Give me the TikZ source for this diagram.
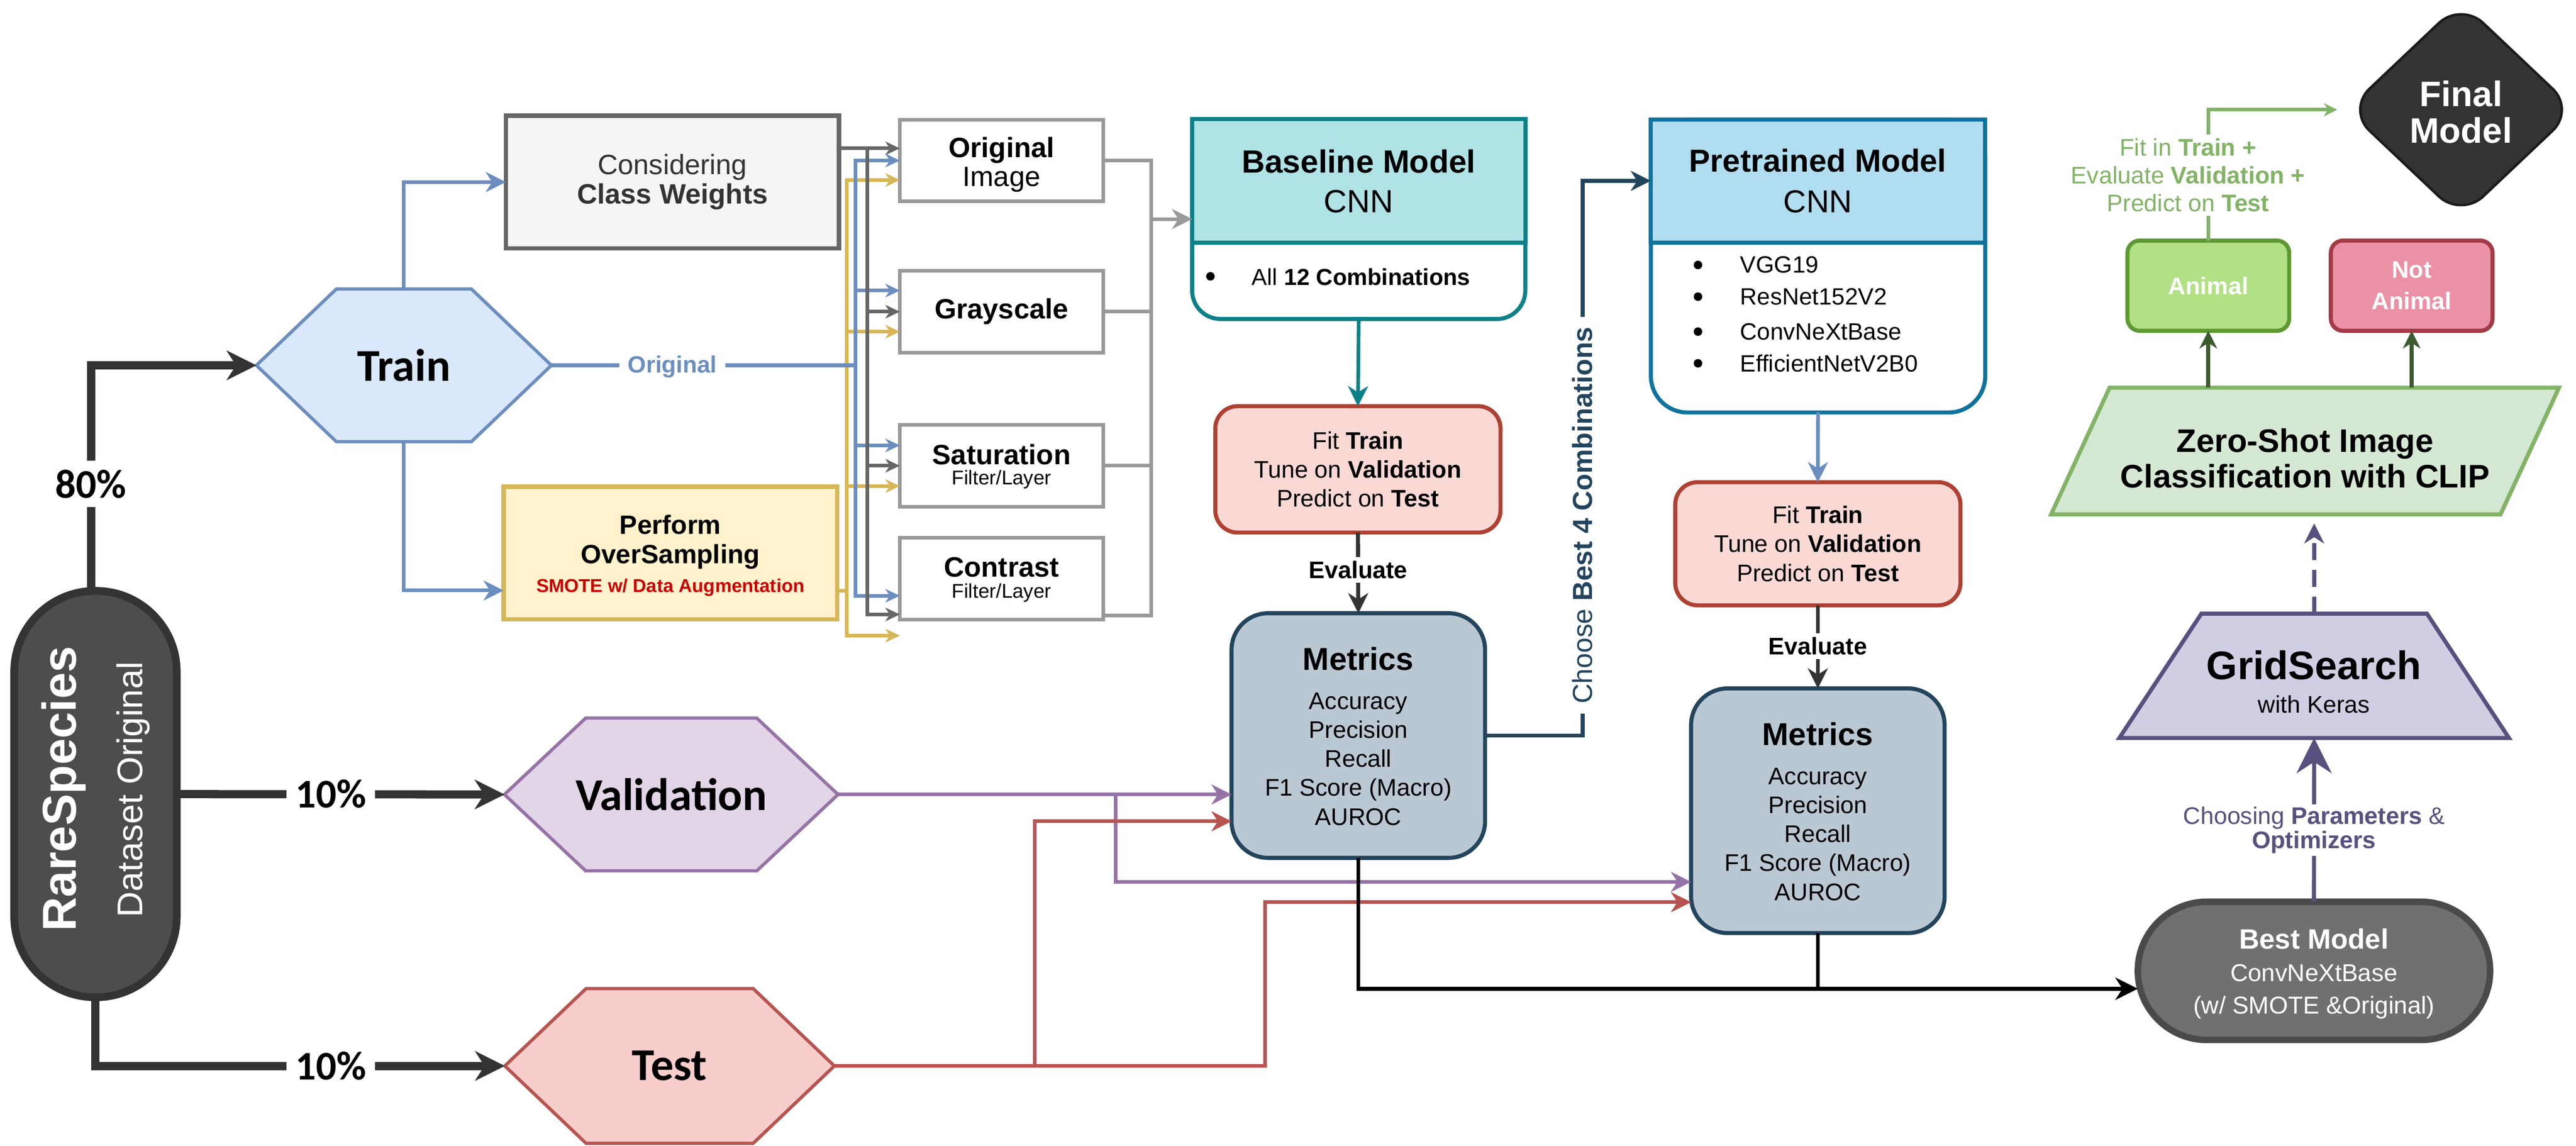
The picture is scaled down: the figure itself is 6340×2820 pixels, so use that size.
\documentclass[tikz,border=0pt]{standalone}
\usepackage{fontspec}
\setmainfont{Liberation Sans}
\newfontfamily\calfont{Carlito}
\usetikzlibrary{arrows.meta,calc,backgrounds}
\definecolor{blueS}{HTML}{6C8EBF}
\definecolor{blueF}{HTML}{DAE8FC}
\definecolor{yelS}{HTML}{D6B656}
\definecolor{yelF}{HTML}{FFF2CC}
\definecolor{purS}{HTML}{9673A6}
\definecolor{purF}{HTML}{E1D5E7}
\definecolor{redS}{HTML}{B85450}
\definecolor{redF}{HTML}{F8CECC}
\definecolor{grnS}{HTML}{82B366}
\definecolor{grnF}{HTML}{D5E8D4}
\definecolor{cwS}{HTML}{666666}
\definecolor{cwF}{HTML}{F5F5F5}
\definecolor{cwT}{HTML}{333333}
\definecolor{filS}{HTML}{999999}
\definecolor{tealS}{HTML}{0E8088}
\definecolor{tealF}{HTML}{B0E3E6}
\definecolor{ptS}{HTML}{10739E}
\definecolor{ptF}{HTML}{B1DDF0}
\definecolor{fitS}{HTML}{AE4132}
\definecolor{fitF}{HTML}{FAD9D5}
\definecolor{metS}{HTML}{23445D}
\definecolor{metF}{HTML}{BAC8D3}
\definecolor{gsS}{HTML}{56517E}
\definecolor{gsF}{HTML}{D0CEE2}
\definecolor{bmF}{HTML}{707070}
\definecolor{bmS}{HTML}{4A4A4A}
\definecolor{anF}{HTML}{B2E085}
\definecolor{anS}{HTML}{5E9832}
\definecolor{naF}{HTML}{EA91A5}
\definecolor{naS}{HTML}{A33A46}
\definecolor{dgrn}{HTML}{3B5A30}
\definecolor{darkC}{HTML}{333333}
\definecolor{rsF}{HTML}{4D4D4D}
\definecolor{smote}{HTML}{CC0000}
\definecolor{fmS}{HTML}{1A1A1A}
\tikzset{
  arr/.style={-{Stealth[length=#1,width=#1,line width=0.1mm]}},
  arrS/.style={-{Stealth[length=3.6mm,width=3.4mm,line width=0.1mm]}},
  thk/.style={draw=darkC, line width=2mm},
  bl/.style={draw=blueS, line width=0.9mm},
  cwl/.style={draw=cwS, line width=0.9mm},
  yl/.style={draw=yelS, line width=0.9mm},
  fl/.style={draw=filS, line width=0.9mm},
  tl/.style={draw=tealS, line width=0.9mm},
  pl/.style={draw=purS, line width=0.9mm},
  rl/.style={draw=redS, line width=0.9mm},
  evl/.style={draw=darkC, line width=1mm},
  chl/.style={draw=metS, line width=1mm},
  bk/.style={draw=black, line width=1mm},
  gsl/.style={draw=gsS, line width=1mm},
  gl/.style={draw=grnS, line width=0.9mm},
  dgl/.style={draw=dgrn, line width=1mm},
  bdot/.style={circle, fill=black, minimum size=2.1mm},
  pct/.style={fill=white, inner sep=2.2mm, font=\calfont\bfseries\fontsize{28.5pt}{34pt}\selectfont},
  filt/.style={draw=filS, fill=white, line width=0.9mm, minimum width=50.1mm, minimum height=20.1mm},
  fitbox/.style={draw=fitS, fill=fitF, line width=1mm, rounded corners=5.5mm, minimum width=70.2mm},
  metbox/.style={draw=metS, fill=metF, line width=1mm, rounded corners=9mm, minimum width=62.4mm, minimum height=60.2mm},
  tB/.style={font=\fontsize{19.6pt}{20.5pt}\selectfont},
  evlab/.style={fill=white, inner sep=1mm, font=\fontsize{16.8pt}{20pt}\selectfont\bfseries},
  mtext/.style={align=center, font=\fontsize{16.8pt}{20.3pt}\selectfont},
}
\begin{document}
\begin{tikzpicture}[x=0.1mm,y=-0.1mm, every node/.append style={inner sep=0pt, outer sep=0pt}]
\begin{scope}[on background layer]
\fill[white] (0,0) rectangle (6340,2820);
\end{scope}
\useasboundingbox (0,0) rectangle (6340,2820);

% ---------- RareSpecies ----------
\node[draw=darkC, fill=rsF, line width=1.9mm, rounded corners=19.9mm, minimum width=40mm, minimum height=100mm] (rs) at (235,1954) {};
\node[rotate=90, text=white, font=\fontsize{33.3pt}{40pt}\selectfont\bfseries] (rsA) at (157,1941) {RareSpecies};
\node[rotate=90, text=white, font=\fontsize{25pt}{30pt}\selectfont] (rsB) at (328,1943) {Dataset Original};

% ---------- Hexagons ----------
\node[minimum width=72.6mm, minimum height=37.6mm, font=\calfont\bfseries\fontsize{31.9pt}{38pt}\selectfont] (train) at (994,899) {Train};
\node[minimum width=82.1mm, minimum height=37.6mm, font=\calfont\bfseries\fontsize{31.9pt}{38pt}\selectfont] (val) at (1652,1955) {Validation};
\node[minimum width=81.1mm, minimum height=38.1mm, font=\calfont\bfseries\fontsize{31.9pt}{38pt}\selectfont] (test) at (1648,2623) {Test};
\begin{scope}[on background layer]
\draw[fill=blueF, draw=blueS, line width=0.8mm] (train.west) -- ([xshift=19.7mm]train.north west) -- ([xshift=-19.7mm]train.north east) -- (train.east) -- ([xshift=-19.7mm]train.south east) -- ([xshift=19.7mm]train.south west) -- cycle;
\draw[fill=purF, draw=purS, line width=0.8mm] (val.west) -- ([xshift=20mm]val.north west) -- ([xshift=-20mm]val.north east) -- (val.east) -- ([xshift=-20mm]val.south east) -- ([xshift=20mm]val.south west) -- cycle;
\draw[fill=redF, draw=redS, line width=0.8mm] (test.west) -- ([xshift=20mm]test.north west) -- ([xshift=-20mm]test.north east) -- (test.east) -- ([xshift=-20mm]test.south east) -- ([xshift=20mm]test.south west) -- cycle;
\end{scope}

% ---------- Split connectors ----------
\draw[thk, arr=7.4mm] ([xshift=-1.1mm]rs.north) |- (train.west);
\draw[thk, arr=7.4mm] (rs.east) -- (val.west);
\draw[thk, arr=7.4mm] (rs.south) |- (test.west);
\node[pct] (p80) at (224,1191) {80\%};
\node[pct] (p10a) at (814,1954) {10\%};
\node[pct] (p10b) at (814,2623) {10\%};

% ---------- Class weights / Oversampling ----------
\node[draw=cwS, fill=cwF, line width=1.1mm, minimum width=82mm, minimum height=32.6mm, text=cwT, align=center, tB] (cw) at (1655,448) {Considering\\\textbf{Class Weights}};
\node[draw=yelS, fill=yelF, line width=1.1mm, minimum width=82.1mm, minimum height=32.6mm] (over) at (1650,1361) {};
\node[align=center, font=\fontsize{18.5pt}{20.5pt}\selectfont\bfseries] (overA) at (1650,1334) {Perform\\OverSampling};
\node[text=smote, font=\fontsize{13.1pt}{16pt}\selectfont\bfseries] (overB) at (1650,1446) {SMOTE w/ Data Augmentation};
\draw[bl, arr=5mm] (train.north) |- (cw.west);
\draw[bl, arr=5mm] (train.south) |- ($(over.west)+(0,92)$);

% ---------- Filter boxes ----------
\node[filt] (oi) at (2465,395) {};
\node[align=center, font=\fontsize{19.6pt}{20.5pt}\selectfont] (oiT) at (2465,405) {\textbf{Original}\\Image};
\node[filt] (gry) at (2465,767) {};
\node[font=\fontsize{19.6pt}{20.5pt}\selectfont\bfseries] (gryT) at (2465,767) {Grayscale};
\node[filt] (sat) at (2465,1146) {};
\node[font=\fontsize{19.6pt}{20.5pt}\selectfont\bfseries] (satA) at (2465,1118) {Saturation};
\node[font=\fontsize{13.9pt}{16pt}\selectfont] (satB) at (2465,1180) {Filter/Layer};
\node[filt] (con) at (2465,1424) {};
\node[font=\fontsize{19.6pt}{20.5pt}\selectfont\bfseries] (conA) at (2465,1396) {Contrast};
\node[font=\fontsize{13.9pt}{16pt}\selectfont] (conB) at (2465,1459) {Filter/Layer};

\coordinate (cwbus) at (2135,0);
\coordinate (blbus) at (2106,0);
\coordinate (ylbus) at (2084,0);
\coordinate (outbus) at (2833,0);

% yellow (oversampling)
\coordinate (yo) at ($(over.east)+(0,93)$);
\draw[yl, arrS] (yo) -- (yo -| ylbus) |- ($(oi.west)+(0,48)$);
\draw[yl, arrS] (yo) -- (yo -| ylbus) |- ($(gry.west)+(0,49)$);
\draw[yl, arrS] (yo) -- (yo -| ylbus) |- ($(sat.west)+(0,50)$);
\draw[yl, arrS] (yo) -- (yo -| ylbus) |- ($(con.west)+(0,140)$);
% blue (original)
\coordinate (bo) at (train.east -| blbus);
\draw[bl] (train.east) -- (bo);
\draw[bl, arrS] (bo) |- (oi.west);
\draw[bl, arrS] (bo) |- ($(gry.west)+(0,-52)$);
\draw[bl, arrS] (bo) |- ($(sat.west)+(0,-50)$);
\draw[bl, arrS] (bo) |- ($(con.west)+(0,42)$);
\node[fill=white, inner xsep=2.1mm, inner ysep=1mm, text=blueS, font=\fontsize{16.5pt}{20pt}\selectfont\bfseries] (origlab) at (1655,903) {Original};
% dark gray (class weights)
\coordinate (co) at ($(cw.east)+(0,-83)$);
\coordinate (cin) at ($(con.west)+(0,88)$);
\draw[cwl, arrS] (co) -- ($(oi.west)+(0,-30)$);
\draw[cwl, arrS] (co) -| (cwbus |- gry.west) -- (gry.west);
\draw[cwl, arrS] (co) -| (cwbus |- sat.west) -- (sat.west);
\draw[cwl, arrS] (co) -| (cwbus |- cin) -- (cin);

% ---------- Baseline model ----------
\node[draw=tealS, fill=white, line width=1mm, rounded corners=7mm, minimum width=82mm, minimum height=49.2mm] (base) at (3344,539) {};
\draw[draw=tealS, fill=tealF, line width=1mm] (base.north west) rectangle ($(base.north east)+(0,304)$);
\node[align=center, font=\fontsize{22.5pt}{27.9pt}\selectfont] (baseT) at (3344,446) {\textbf{Baseline Model}\\CNN};
\node[bdot] (baseB) at (2979,680) {};
\node[anchor=west, font=\fontsize{16.2pt}{20pt}\selectfont] (baseL) at (3081,682) {All \textbf{12 Combinations}};

% gray output bus
\coordinate (c4) at ($(con.east)+(0,91)$);
\draw[fl] (oi.east) -| (outbus |- c4) -- (c4);
\draw[fl] (gry.east) -- (gry.east -| outbus);
\draw[fl] (sat.east) -- (sat.east -| outbus);
\draw[fl, arr=5mm] (outbus |- base.west) -- (base.west);

% ---------- Fit / Metrics 1 ----------
\node[fitbox, minimum height=31.1mm, mtext] (fit1) at (3342,1155) {Fit \textbf{Train}\\Tune on \textbf{Validation}\\Predict on \textbf{Test}};
\draw[tl, arr=5mm] (base.south) -- (fit1.north);
\node[metbox] (m1) at (3343,1810) {};
\node[mtext] (m1t) at (3343,1812) {{\fontsize{22.2pt}{20.3pt}\selectfont\bfseries Metrics}\\[2.4mm]Accuracy\\Precision\\Recall\\F1 Score (Macro)\\AUROC};
\draw[evl, arr=5mm] (fit1.south) -- (m1.north) node[evlab, pos=0.46] (ev1) {Evaluate};

% ---------- Pretrained ----------
\node[draw=ptS, fill=white, line width=1mm, rounded corners=9mm, minimum width=82.3mm, minimum height=72.1mm] (pt) at (4474.5,654.5) {};
\draw[draw=ptS, fill=ptF, line width=1mm] (pt.north west) rectangle ($(pt.north east)+(0,303)$);
\node[align=center, font=\fontsize{22.2pt}{28.2pt}\selectfont] (ptT) at (4474,445) {\textbf{Pretrained Model}\\CNN};
\node[bdot] (ptb1) at (4179,652) {};
\node[bdot] (ptb2) at (4179,730) {};
\node[bdot] (ptb3) at (4179,816) {};
\node[bdot] (ptb4) at (4179,894) {};
\node[anchor=west, font=\fontsize{16.5pt}{20pt}\selectfont] (ptl1) at (4283,652) {VGG19};
\node[anchor=west, font=\fontsize{16.5pt}{20pt}\selectfont] (ptl2) at (4283,730) {ResNet152V2};
\node[anchor=west, font=\fontsize{16.5pt}{20pt}\selectfont] (ptl3) at (4283,816) {ConvNeXtBase};
\node[anchor=west, font=\fontsize{16.5pt}{20pt}\selectfont] (ptl4) at (4283,894) {EfficientNetV2B0};

\node[fitbox, minimum height=30.3mm, mtext] (fit2) at (4474,1338) {Fit \textbf{Train}\\Tune on \textbf{Validation}\\Predict on \textbf{Test}};
\draw[bl, arr=5mm] (pt.south) -- (fit2.north);
\node[metbox] (m2) at (4474,1995) {};
\node[mtext] (m2t) at (4474,1997) {{\fontsize{22.2pt}{20.3pt}\selectfont\bfseries Metrics}\\[2.4mm]Accuracy\\Precision\\Recall\\F1 Score (Macro)\\AUROC};
\draw[evl, arr=5mm] (fit2.south) -- (m2.north) node[evlab, pos=0.49] (ev2) {Evaluate};

% Choose best 4
\coordinate (pthw) at ($(pt.north west)+(0,151)$);
\coordinate (chc) at (3895,0);
\draw[chl, arr=5mm] (m1.east) -| (chc |- pthw) -- (pthw);
\node[rotate=90, fill=white, inner xsep=2.5mm, inner ysep=1mm, text=metS, font=\fontsize{19.3pt}{22pt}\selectfont] (cht) at (3895,1268) {Choose \textbf{Best 4 Combinations}};

% ---------- Validation / Test connectors ----------
\coordinate (vbr) at (2746,0);
\coordinate (tbr1) at (2547,0);
\coordinate (tbr2) at (3114,0);
\draw[pl, arr=5mm] (val.east) -- (val.east -| m1.west);
\draw[pl, arr=5mm] (val.east) -- (val.east -| vbr) |- ($(m2.west)+(0,175)$);
\draw[rl, arr=5mm] (test.east) -- (test.east -| tbr1) |- ($(m1.west)+(0,211)$);
\draw[rl, arr=5mm] (test.east) -- (test.east -| tbr2) |- ($(m2.west)+(0,225)$);

% ---------- Best model ----------
\node[draw=bmS, fill=bmF, line width=1.6mm, rounded corners=17mm, minimum width=86.7mm, minimum height=34mm] (bm) at (5695,2389) {};
\node[align=center, text=white, font=\fontsize{17.1pt}{22.8pt}\selectfont] (bmt) at (5695,2396) {{\fontsize{19.6pt}{22.8pt}\selectfont\bfseries Best Model}\\ConvNeXtBase\\(w/ SMOTE \&Original)};
\coordinate (bmin) at ($(bm.west)+(0,44)$);
\draw[bk, arr=5.6mm] (m1.south) |- (bmin);
\draw[bk] (m2.south) -- (m2.south |- bmin);

% ---------- GridSearch ----------
\node[minimum width=95.9mm, minimum height=30.6mm] (gsn) at (5695.5,1663) {};
\begin{scope}[on background layer]
\draw[fill=gsF, draw=gsS, line width=1mm] (gsn.south west) -- (gsn.south east) -- ([xshift=-20.2mm]gsn.north east) -- ([xshift=20.2mm]gsn.north west) -- cycle;
\end{scope}
\node[font=\fontsize{27.9pt}{30pt}\selectfont\bfseries] (gsA) at (5695,1637) {GridSearch};
\node[font=\fontsize{16.8pt}{20pt}\selectfont] (gsB) at (5695,1733) {with Keras};
\draw[gsl, arr=8.7mm] (bm.north) -- (gsn.south);
\node[fill=white, align=center, text=gsS, inner sep=0.6mm, font=\fontsize{16.8pt}{17.1pt}\selectfont] (chp) at (5695,2043) {Choosing \textbf{Parameters} \&\\\textbf{Optimizers}};

% ---------- CLIP ----------
\node[minimum width=125mm, minimum height=31.2mm] (clip) at (5673,1110) {};
\begin{scope}[on background layer]
\draw[fill=grnF, draw=grnS, line width=1mm] ([xshift=14.4mm]clip.north west) -- (clip.north east) -- ([xshift=-14.4mm]clip.south east) -- (clip.south west) -- cycle;
\end{scope}
\node[align=center, font=\fontsize{22.8pt}{25pt}\selectfont\bfseries] (clipT) at (5673,1128) {Zero-Shot Image\\Classification with CLIP};
\coordinate (clipin) at ($(gsn.north |- clip.south)+(0,22)$);
\draw[gsl, dash pattern=on 4.2mm off 2.4mm, arr=5mm] (gsn.north) -- (clipin);

% ---------- Animal / Not Animal ----------
\node[draw=anS, fill=anF, line width=1mm, rounded corners=3mm, minimum width=39.8mm, minimum height=22.2mm, text=white, font=\fontsize{16.8pt}{20pt}\selectfont\bfseries] (an) at (5435,703) {Animal};
\node[draw=naS, fill=naF, line width=1mm, rounded corners=3mm, minimum width=39.8mm, minimum height=22.2mm, text=white, align=center, font=\fontsize{16.8pt}{22.2pt}\selectfont\bfseries] (na) at (5935.5,703) {Not\\Animal};
\draw[dgl, arr=4.4mm] (clip.north -| an.south) -- (an.south);
\draw[dgl, arr=4.4mm] (clip.north -| na.south) -- (na.south);

% ---------- Final model ----------
\node[minimum width=56mm, minimum height=53mm] (fm) at (6057,270) {};
\draw[fill=darkC, draw=fmS, line width=0.6mm, rounded corners=7.5mm] ($(fm.west)!0.5!(fm.north)$) -- (fm.north) -- (fm.east) -- (fm.south) -- (fm.west) -- cycle;
\node[align=center, text=white, font=\fontsize{24.8pt}{25.6pt}\selectfont\bfseries] (fmT) at (6057,276) {Final\\Model};
\draw[gl, arr=3.3mm] (an.north) |- ([xshift=-2.5mm]fm.west);
\node[fill=white, align=center, text=grnS, inner sep=1mm, font=\fontsize{16.8pt}{19.6pt}\selectfont] (fitlab) at (5385,431) {Fit in \textbf{Train +}\\Evaluate \textbf{Validation +}\\Predict on \textbf{Test}};
\end{tikzpicture}
\end{document}
